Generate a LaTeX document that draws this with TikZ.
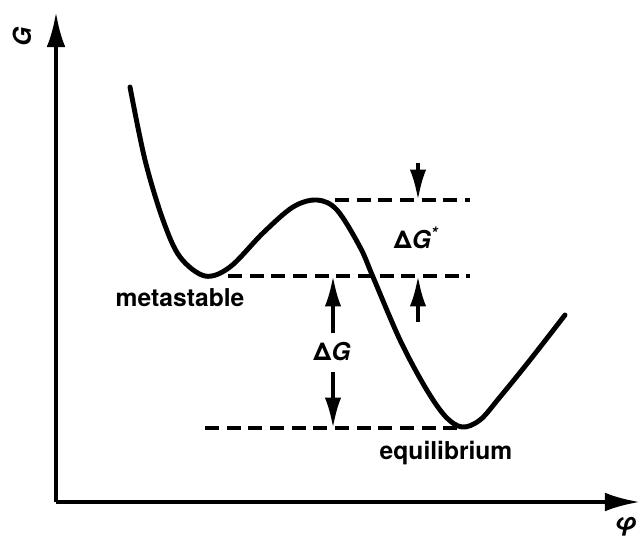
\documentclass[tikz,border=0pt]{standalone}
\usepackage{fontspec}
\setmainfont{TeX Gyre Heros}
\usetikzlibrary{arrows.meta}
\begin{document}
\begin{tikzpicture}[x=0.03cm,y=-0.03cm,
  lbl/.style={font=\bfseries\fontsize{21}{21}\selectfont},
  level/.style={line width=3.2pt, dash pattern=on 12pt off 6.5pt},
  axis/.style={line width=3.6pt, -{Latex[length=30pt,width=16pt]}},
  gap/.style={line width=3pt, -{Latex[length=26pt,width=14pt]}}]

\useasboundingbox (0,0) rectangle (640,537);

% axes
\coordinate (o) at (56,502);
\coordinate (ytop) at (56,12);
\coordinate (xend) at (640,502);
\draw[axis] (o)--(ytop);
\draw[axis] (o)--(xend);
\node[lbl, rotate=90] (gl) at (22,37) {\itshape G};
\node[lbl] (phi) at (626,527) {\itshape φ};

% free energy curve
\draw[line width=4.2pt, line cap=round] plot[smooth, tension=0.55] coordinates
  {(130,87) (145,160) (163,220) (180,257) (205,276) (230,267) (263,233)
   (293,207) (317,200) (337,210) (360,247) (373,277) (400,340)
   (425,387) (445,416) (462,427) (480,420) (500,397) (530,360) (565,315)};

% levels
\coordinate (a1) at (335,200); \coordinate (a2) at (470,200);
\coordinate (b1) at (228,276); \coordinate (b2) at (470,276);
\coordinate (c1) at (205,428); \coordinate (c2) at (462,428);
\draw[level] (a1)--(a2);
\draw[level] (b1)--(b2);
\draw[level] (c1)--(c2);

% barrier
\coordinate (p1) at (418,163); \coordinate (p2) at (418,200);
\coordinate (p3) at (418,322); \coordinate (p4) at (418,276);
\draw[gap] (p1)--(p2);
\draw[gap] (p3)--(p4);
\node[lbl] (dgs) at (416,238) {Δ\itshape G\textsuperscript{*}};

% driving force
\coordinate (q1) at (333,333); \coordinate (q2) at (333,276);
\coordinate (q3) at (333,372); \coordinate (q4) at (333,428);
\draw[gap] (q1)--(q2);
\draw[gap] (q3)--(q4);
\node[lbl] (dg) at (332,352) {Δ\itshape G};

\node[lbl] (meta) at (180,298) {metastable};
\node[lbl] (equi) at (446,453) {equilibrium};

\end{tikzpicture}
\end{document}
